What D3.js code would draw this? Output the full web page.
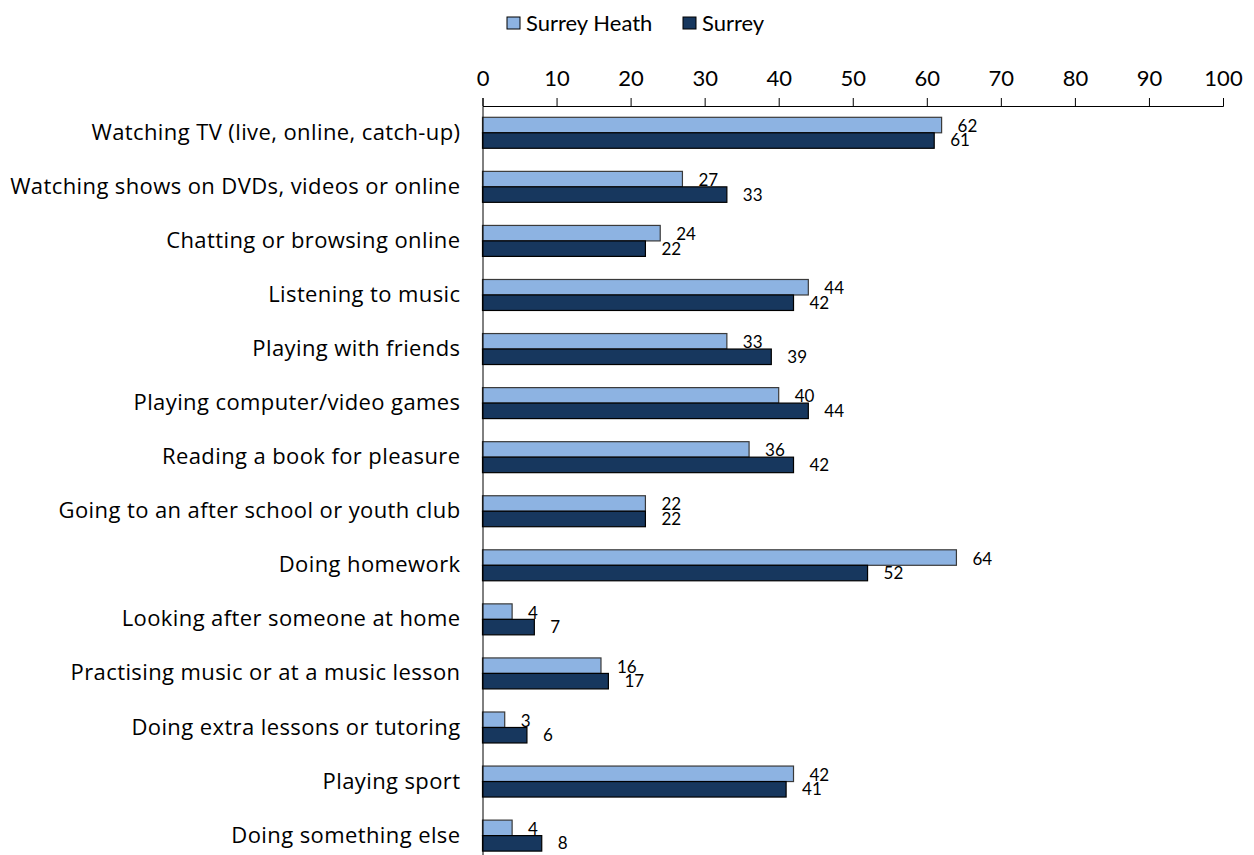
<!DOCTYPE html>
<html>
<head>
<meta charset="utf-8">
<title>Activities</title>
<style>
	body { margin: 0; background: #fff; }
	text { font-family: Lato, "Open Sans", sans-serif; fill: #000; }
</style>
</head>
<body>
<svg width="1254" height="855"></svg>
<script src="https://cdn.jsdelivr.net/npm/d3@7"></script>
<script>
	// data
	let categories = [
		"Watching TV (live, online, catch-up)",
		"Watching shows on DVDs, videos or online",
		"Chatting or browsing online",
		"Listening to music",
		"Playing with friends",
		"Playing computer/video games",
		"Reading a book for pleasure",
		"Going to an after school or youth club",
		"Doing homework",
		"Looking after someone at home",
		"Practising music or at a music lesson",
		"Doing extra lessons or tutoring",
		"Playing sport",
		"Doing something else"
	]
	let surreyHeath = [62, 27, 24, 44, 33, 40, 36, 22, 64, 4, 16, 3, 42, 4]
	let surrey = [61, 33, 22, 42, 39, 44, 42, 22, 52, 7, 17, 6, 41, 8]
	let seriesNames = ["Surrey Heath", "Surrey"]
	let xTicks = [0, 10, 20, 30, 40, 50, 60, 70, 80, 90, 100]

	let colors = ["#8db3e2", "#17375e"]
	let strokes = ["#3a3a3a", "#000"]

	let svg = d3.select("svg")

	let x = d3.scaleLinear().domain([0, 100]).range([482.5, 1223])
	let y = d3.scaleBand().domain(categories)
		.range([106, 862.4]).paddingInner(0.427).paddingOuter(0.209)
	let sub = d3.scaleBand().domain([0, 1]).range([0, y.bandwidth()])

	//top axis
	let xAxis = d3.axisTop(x).tickValues(xTicks).tickSize(8).tickPadding(12)
	let gx = svg.append("g").attr("transform", "translate(0,106)").call(xAxis)
	gx.selectAll("text").attr("font-size", 22).style("font-family", "Lato, sans-serif")
	gx.selectAll("path, line").attr("stroke", "#000")

	//bars
	let series = [surreyHeath, surrey]
	series.forEach((vals, si) => {
		let g = svg.append("g")
		g.selectAll("rect").data(vals).enter().append("rect")
			.attr("x", x(0))
			.attr("y", (d, i) => y(categories[i]) + sub(si))
			.attr("width", d => x(d) - x(0))
			.attr("height", sub.bandwidth())
			.attr("fill", colors[si])
			.attr("stroke", strokes[si])
			.attr("stroke-width", 1.2)
		g.selectAll("text").data(vals).enter().append("text")
			.attr("x", d => x(d) + 16)
			.attr("y", (d, i) => y(categories[i]) + sub(si) + sub.bandwidth() / 2 + (si == 0 ? 1 : 0))
			.attr("dy", "0.35em")
			.attr("font-size", 17)
			.text(d => d)
	})

	//left axis with category labels
	let yAxis = d3.axisLeft(y).tickSize(0).tickPadding(22)
	let gy = svg.append("g").attr("transform", `translate(${x(0)},0)`).call(yAxis)
	gy.selectAll("text").attr("font-size", 22).attr("letter-spacing", 0.4)
		.style("font-family", "'Open Sans', sans-serif")
	gy.select(".domain").attr("stroke", "#000")

	//legend
	let legendX = [507, 683]
	let lg = svg.append("g")
	seriesNames.forEach((n, i) => {
		lg.append("rect").attr("x", legendX[i]).attr("y", 17)
			.attr("width", 13).attr("height", 12)
			.attr("fill", colors[i]).attr("stroke", "#000").attr("stroke-width", 1)
		lg.append("text").attr("x", legendX[i] + 19).attr("y", 23)
			.attr("dy", "0.35em").attr("font-size", 22).text(n)
	})
</script>
</body>
</html>
